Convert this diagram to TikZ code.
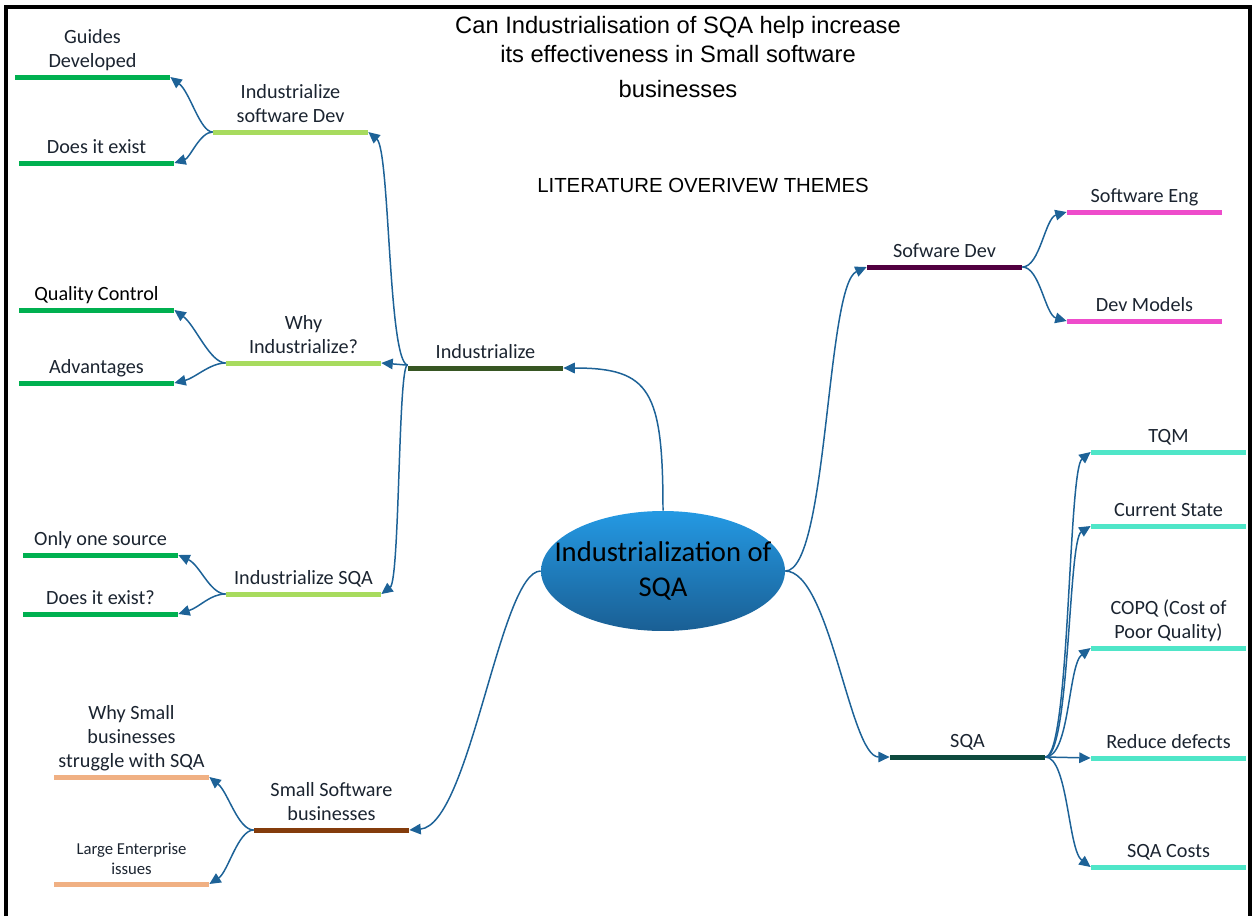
\documentclass[tikz,border=0pt]{standalone}
\usepackage{fontspec}
\setmainfont{Carlito}
\newfontfamily\arialfont{Liberation Sans}
\usetikzlibrary{arrows.meta,shapes.geometric,positioning}
\definecolor{linkblue}{HTML}{1D6297}
\definecolor{labeltext}{HTML}{1B2430}
\definecolor{coretop}{HTML}{2499E3}
\definecolor{corebottom}{HTML}{1A5F94}
\definecolor{olivebar}{HTML}{375623}
\definecolor{limebar}{HTML}{A8DB5E}
\definecolor{greenbar}{HTML}{00B050}
\definecolor{brownbar}{HTML}{843C0C}
\definecolor{peachbar}{HTML}{F0B083}
\definecolor{plumbar}{HTML}{520040}
\definecolor{pinkbar}{HTML}{EE4CCB}
\definecolor{tealbar}{HTML}{0E4A3E}
\definecolor{aquabar}{HTML}{4FE6C8}

\begin{document}
\begin{tikzpicture}[x=0.02cm,y=-0.02cm,
  bar/.style={rectangle,inner sep=0pt,minimum width=3.1cm,minimum height=0.1cm,fill=#1},
  lbl/.style={inner sep=0pt,text depth=0pt,align=center,text=labeltext,font=\fontsize{11.5}{13.8}\selectfont},
  link/.style={draw=linkblue,line width=0.85pt,-{Triangle[length=6.5pt,width=6pt]}}]
\useasboundingbox (0,0) rectangle (1254,916);
\draw[line width=1.8pt] (6,916) -- (6,7) -- (1250,7) -- (1250,916);

\node[font=\arialfont\fontsize{13.5}{16.5}\selectfont,align=center] (title) at (678,57) {Can Industrialisation of SQA help increase\\its effectiveness in Small software\\[3pt]businesses};
\node[font=\arialfont\fontsize{11.6}{13}\selectfont] (themes) at (703,185) {LITERATURE OVERIVEW THEMES};

\node[ellipse,top color=coretop,bottom color=corebottom,minimum width=4.88cm,minimum height=2.4cm,inner sep=0pt] (core) at (663,571) {};
\node[align=center,inner sep=0pt,font=\fontsize{16.3}{19.5}\selectfont] (coretext) at (core.center) {Industrialization of\\SQA};

\node[bar=olivebar] (ind) at (485.5,368) {};
\node[bar=limebar] (isd) at (290.5,132) {};
\node[bar=limebar] (why) at (303.5,363) {};
\node[bar=limebar] (isqa) at (303.5,594) {};
\node[bar=greenbar] (gd) at (92.5,77) {};
\node[bar=greenbar] (die) at (96.5,163) {};
\node[bar=greenbar] (qc) at (96.5,310) {};
\node[bar=greenbar] (adv) at (96.5,383) {};
\node[bar=greenbar] (oos) at (100.5,555) {};
\node[bar=greenbar] (dieq) at (100.5,614) {};
\node[bar=brownbar] (ssb) at (331.5,830) {};
\node[bar=peachbar] (wsb) at (131.5,777) {};
\node[bar=peachbar] (lei) at (131.5,884) {};
\node[bar=plumbar] (sdev) at (944.5,267) {};
\node[bar=pinkbar] (seng) at (1144.5,212) {};
\node[bar=pinkbar] (dm) at (1144.5,321) {};
\node[bar=tealbar] (sqa) at (967.5,757) {};
\node[bar=aquabar] (tqm) at (1168.5,452) {};
\node[bar=aquabar] (cs) at (1168.5,526) {};
\node[bar=aquabar] (copq) at (1168.5,648) {};
\node[bar=aquabar] (rd) at (1168.5,758) {};
\node[bar=aquabar] (sqac) at (1168.5,867) {};

\node[lbl,above=3.5pt of ind] (lind) {Industrialize};
\node[lbl,above=3.5pt of isd] (lisd) {Industrialize\\software Dev};
\node[lbl,above=3.5pt of why] (lwhy) {Why\\Industrialize?};
\node[lbl,above=3.5pt of isqa] (lisqa) {Industrialize SQA};
\node[lbl,above=3.5pt of gd] (lgd) {Guides\\Developed};
\node[lbl,above=3.5pt of die] (ldie) {Does it exist};
\node[lbl,above=3.5pt of qc,text=black] (lqc) {Quality Control};
\node[lbl,above=3.5pt of adv] (ladv) {Advantages};
\node[lbl,above=3.5pt of oos] (loos) {Only one source};
\node[lbl,above=3.5pt of dieq] (ldieq) {Does it exist?};
\node[lbl,above=3.5pt of ssb] (lssb) {Small Software\\businesses};
\node[lbl,above=3.5pt of wsb] (lwsb) {Why Small\\businesses\\struggle with SQA};
\node[lbl,above=3.5pt of lei,font=\fontsize{9.5}{11.5}\selectfont] (llei) {Large Enterprise\\issues};
\node[lbl,above=3.5pt of sdev] (lsdev) {Sofware Dev};
\node[lbl,above=3.5pt of seng] (lseng) {Software Eng};
\node[lbl,above=3.5pt of dm] (ldm) {Dev Models};
\node[lbl,above=3.5pt of sqa] (lsqa) {SQA};
\node[lbl,above=3.5pt of tqm] (ltqm) {TQM};
\node[lbl,above=3.5pt of cs] (lcs) {Current State};
\node[lbl,above=3.5pt of copq] (lcopq) {COPQ (Cost of\\Poor Quality)};
\node[lbl,above=3.5pt of rd] (lrd) {Reduce defects};
\node[lbl,above=3.5pt of sqac] (lsqac) {SQA Costs};

\draw[link] (core.north) .. controls (663,390) and (650,368) .. (ind.east);
\draw[link] (core.west) .. controls (500,571) and (470,825) .. (ssb.east);
\draw[link] (core.east) .. controls (828,571) and (826,285) .. (sdev.west);
\draw[link] (core.east) .. controls (830,571) and (850,757) .. (sqa.west);

\draw[link] (ind.north west) .. controls (388,362) and (390,150) .. (isd.east);
\draw[link] (ind.north west) -- (why.east);
\draw[link] (ind.north west) .. controls (398,362) and (400,580) .. (isqa.east);

\draw[link] (isd.west) .. controls (200,132) and (190,92) .. (gd.east);
\draw[link] (isd.west) .. controls (200,132) and (190,158) .. (die.east);
\draw[link] (why.west) .. controls (210,363) and (195,325) .. (qc.east);
\draw[link] (why.west) .. controls (210,363) and (195,378) .. (adv.east);
\draw[link] (isqa.west) .. controls (210,594) and (200,565) .. (oos.east);
\draw[link] (isqa.west) .. controls (210,594) and (200,607) .. (dieq.east);

\draw[link] (ssb.west) .. controls (238,830) and (228,792) .. (wsb.east);
\draw[link] (ssb.west) .. controls (238,830) and (228,872) .. (lei.east);

\draw[link] (sdev.east) .. controls (1040,267) and (1045,218) .. (seng.west);
\draw[link] (sdev.east) .. controls (1040,267) and (1045,315) .. (dm.west);

\draw[link] (sqa.east) .. controls (1070,757) and (1068,470) .. (tqm.west);
\draw[link] (sqa.east) .. controls (1070,757) and (1068,540) .. (cs.west);
\draw[link] (sqa.east) .. controls (1070,757) and (1068,665) .. (copq.west);
\draw[link] (sqa.east) -- (rd.west);
\draw[link] (sqa.east) .. controls (1068,757) and (1068,850) .. (sqac.west);
\end{tikzpicture}
\end{document}
